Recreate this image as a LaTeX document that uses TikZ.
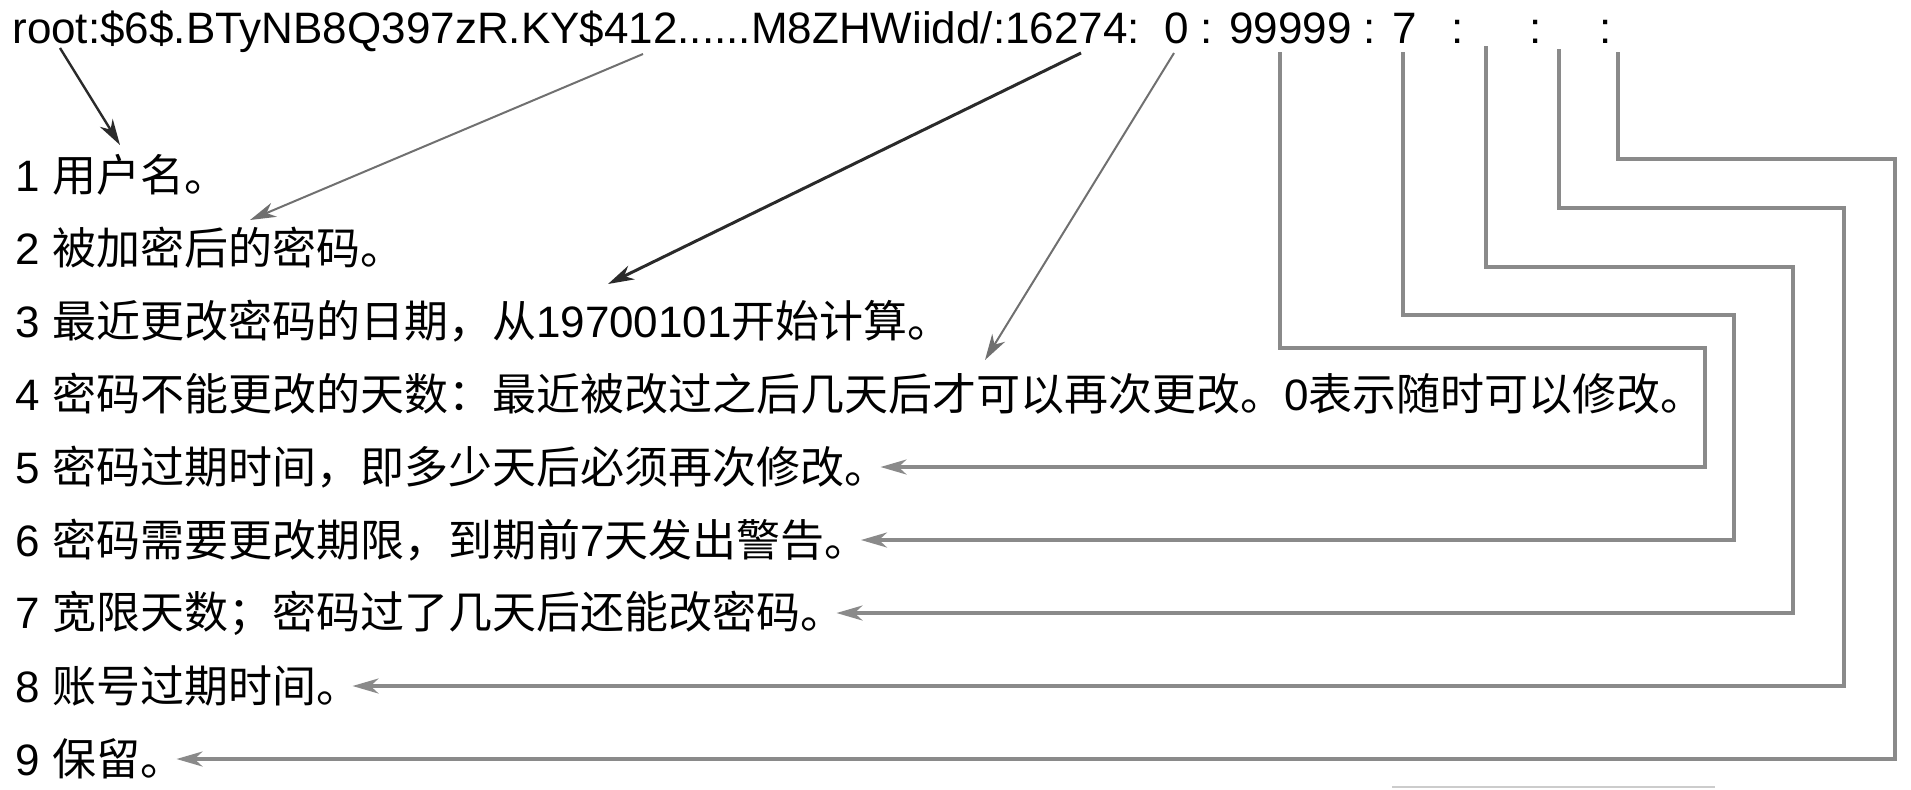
\documentclass[tikz,border=0pt]{standalone}
\usepackage{fontspec}
\setmainfont{Liberation Sans}
\newfontfamily\zhfont{Noto Sans CJK SC}
\newcommand{\zh}[1]{{\zhfont #1}}
\usetikzlibrary{arrows.meta,positioning}

\definecolor{bracketgray}{HTML}{8A8A8A}
\definecolor{pointergray}{HTML}{707070}
\definecolor{pointerdark}{HTML}{2A2A2A}

\begin{document}
\begin{tikzpicture}[x=0.5pt,y=-0.5pt,
  >={Stealth[length=13pt,width=7.5pt,inset=4pt]},
  node distance=36.5pt,
  field/.style={font=\fontsize{22}{26}\selectfont,inner sep=0pt},
  item/.style={field,anchor=west},
  pointer/.style={->,draw=pointergray,line width=1pt},
  bracket/.style={->,draw=bracketgray,line width=1.6pt}]

  \useasboundingbox (0,0) rectangle (1911,789);

  % the shadow record
  \node[field,anchor=base west] (rec) at (12,43)
    {root:\$6\$.BTyNB8Q397zR.KY\$412......M8ZHWiidd/:16274:\ \ 0 : 99999 : 7};
  \node[field,anchor=base] (c7) at (1458,43) {:};
  \node[field,anchor=base] (c8) at (1536,43) {:};
  \node[field,anchor=base] (c9) at (1606,43) {:};

  % the nine fields
  \node[item] (lab1) at (15,175) {1 \zh{用户名。}};
  \node[item] (lab2) [below=of lab1.west,anchor=west] {2 \zh{被加密后的密码。}};
  \node[item] (lab3) [below=of lab2.west,anchor=west]
    {3 \zh{最近更改密码的日期，从}19700101\zh{开始计算。}};
  \node[item] (lab4) [below=of lab3.west,anchor=west]
    {4 \zh{密码不能更改的天数：最近被改过之后几天后才可以再次更改。}0\zh{表示随时可以修改。}};
  \node[item] (lab5) [below=of lab4.west,anchor=west] {5 \zh{密码过期时间，即多少天后必须再次修改。}};
  \node[item] (lab6) [below=of lab5.west,anchor=west] {6 \zh{密码需要更改期限，到期前}7\zh{天发出警告。}};
  \node[item] (lab7) [below=of lab6.west,anchor=west] {7 \zh{宽限天数；密码过了几天后还能改密码。}};
  \node[item] (lab8) [below=of lab7.west,anchor=west] {8 \zh{账号过期时间。}};
  \node[item] (lab9) [below=of lab8.west,anchor=west] {9 \zh{保留。}};

  % where each field starts in the record
  \coordinate (s1) at (60,48);
  \coordinate (s2) at (643,54);
  \coordinate (s3) at (1081,53);
  \coordinate (s4) at (1174,53);
  \coordinate (s5) at (1280,52);
  \coordinate (s6) at (1403,52);
  \coordinate (s7) at (1486,46);
  \coordinate (s8) at (1559,49);
  \coordinate (s9) at (1618,52);

  % slanted pointers end just above their text
  \coordinate (e1) at (120,145);
  \coordinate (e2) at (250,220);
  \coordinate (e3) at (608,284);
  \coordinate (e4) at (985,360);

  \draw[pointer,draw=pointerdark,line width=1.2pt] (s1) -- (e1);
  \draw[pointer] (s2) -- (e2);
  \draw[pointer,draw=pointerdark,line width=1.5pt] (s3) -- (e3);
  \draw[pointer] (s4) -- (e4);

  % nested brackets down the right side
  \draw[bracket] (s5) |- (1705,348) |- ([xshift=-4pt]lab5.east);
  \draw[bracket] (s6) |- (1734,315) |- ([xshift=-4pt]lab6.east);
  \draw[bracket] (s7) |- (1793,267) |- ([xshift=-4pt]lab7.east);
  \draw[bracket] (s8) |- (1844,208) |- ([xshift=-4pt]lab8.east);
  \draw[bracket] (s9) |- (1895,159) |- ([xshift=-4pt]lab9.east);

  \draw[black!20,line width=1pt] (1392,787) -- (1715,787);

\end{tikzpicture}
\end{document}
